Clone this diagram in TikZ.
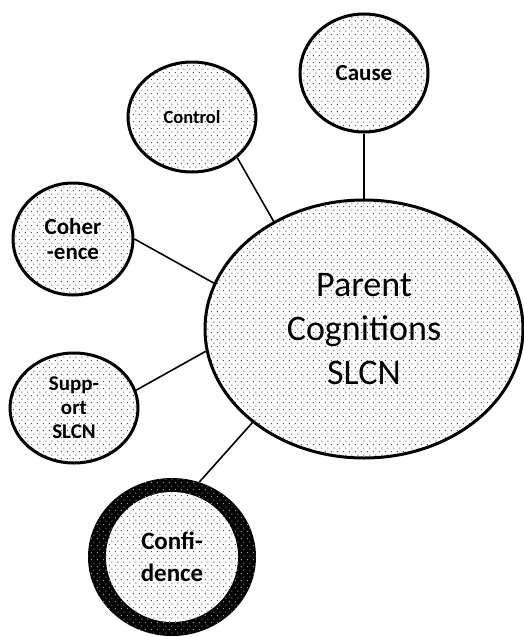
\documentclass[tikz,border=0pt]{standalone}
\usepackage{fontspec}
\setmainfont{Carlito}
\usetikzlibrary{shapes.geometric,patterns.meta}

% staggered fine dot texture used inside every bubble
\tikzdeclarepattern{
  name=softdots, type=uncolored,
  bounding box={(0pt,0pt) and (6pt,7.4pt)},
  tile size={(6pt,7.4pt)},
  code={
    \fill (1pt,1pt) rectangle (2.1pt,2.1pt);
    \fill (4pt,4.7pt) rectangle (5.1pt,5.8pt);
  }
}

\tikzset{
  bubble/.style={ellipse, draw=black, line width=3pt, inner sep=0pt,
    align=center, text=black,
    pattern=softdots, pattern color=black!70},
  smalltext/.style={font=\bfseries\fontsize{23}{25}\selectfont},
  link/.style={draw=black, line width=1.6pt},
}

\begin{document}
\begin{tikzpicture}[x=1pt,y=-1pt]
  \useasboundingbox (0,0) rectangle (523,637);

  % central node
  \node[bubble, minimum width=318pt, minimum height=258pt,
        font=\fontsize{36}{44}\selectfont] (main) at (364,329)
        {Parent\\Cognitions\\SLCN};

  % satellites
  \node[bubble, smalltext, minimum width=128pt, minimum height=118pt]
        (cause) at (364,73) {Cause};
  \node[bubble, minimum width=128pt, minimum height=110pt,
        font=\bfseries\fontsize{18.5}{22}\selectfont]
        (control) at (192,117) {Control};
  \node[bubble, smalltext, minimum width=120pt, minimum height=112pt]
        (coher) at (73,239) {Coher\\-ence};
  \node[bubble, font=\bfseries\fontsize{21}{24}\selectfont,
        minimum width=128pt, minimum height=110pt]
        (support) at (74,408) {Supp-\\ort\\SLCN};

  % highlighted node: thick dotted black ring around a light core
  \node[ellipse, inner sep=0pt, minimum width=168pt, minimum height=158pt,
        fill=black, postaction={pattern=softdots, pattern color=white!60!black}]
        (conf) at (172,557) {};
  \node[ellipse, inner sep=0pt, minimum width=132pt, minimum height=130pt,
        fill=white, postaction={pattern=softdots, pattern color=black!70},
        align=center, font=\bfseries\fontsize{25}{32}\selectfont]
        (confcore) at (172,557) {Confi-\\dence};

  % connectors
  \draw[link] (cause.south) -- (main.north);
  \draw[link] (control.-42) -- (main.130);
  \draw[link] (coher.0) -- (main.163);
  \draw[link] (support.16) -- (main.-172);
  \draw[link] (conf.70) -- (main.220);
\end{tikzpicture}
\end{document}
